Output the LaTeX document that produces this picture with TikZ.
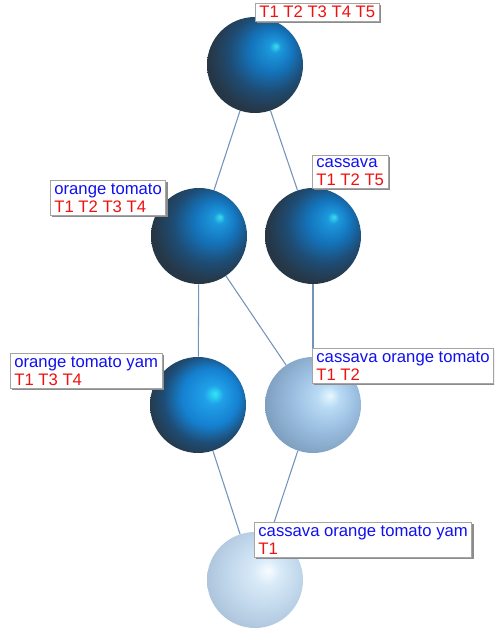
\documentclass[tikz,border=0pt]{standalone}
\usepackage{fontspec}
\setmainfont{Liberation Sans}
\usetikzlibrary{positioning,backgrounds,shadows}
\definecolor{cBlue}{HTML}{1010F0}
\definecolor{cRed}{HTML}{F01010}
\definecolor{cEdge}{HTML}{7394BA}
\definecolor{cFrame}{HTML}{A4A4A4}
% sphere colours
\definecolor{dHi}{HTML}{38E0EC}
\definecolor{dBlue}{HTML}{1C98DC}
\definecolor{dMid}{HTML}{1474BC}
\definecolor{dSteel}{HTML}{1E4C74}
\definecolor{dDark}{HTML}{263848}
\definecolor{dDeep}{HTML}{1A2230}
\definecolor{bHi}{HTML}{30E8F4}
\definecolor{bBlue}{HTML}{20A0E8}
\definecolor{bMid}{HTML}{1580D0}
\definecolor{lHi}{HTML}{E8F8FF}
\definecolor{lBlue}{HTML}{B8DAF4}
\definecolor{lMid}{HTML}{9CC0E2}
\definecolor{lDark}{HTML}{7C9CBC}
\definecolor{lDeep}{HTML}{5C748C}
\definecolor{pHi}{HTML}{F8FCFF}
\definecolor{pBlue}{HTML}{D8EAF8}
\definecolor{pMid}{HTML}{C2D8EC}
\definecolor{pDark}{HTML}{AAC2DA}
\definecolor{pDeep}{HTML}{92AAC2}
\pgfdeclareradialshading{darksph}{\pgfpoint{11bp}{10bp}}{%
  color(0bp)=(dHi); color(3bp)=(dBlue); color(11bp)=(dMid);
  color(20bp)=(dSteel); color(28bp)=(dDark); color(50bp)=(dDeep)}
\pgfdeclareradialshading{bluesph}{\pgfpoint{9bp}{6bp}}{%
  color(0bp)=(bHi); color(5bp)=(bBlue); color(15bp)=(bMid);
  color(23bp)=(dSteel); color(30bp)=(dDark); color(50bp)=(dDeep)}
\pgfdeclareradialshading{lightsph}{\pgfpoint{9bp}{5bp}}{%
  color(0bp)=(lHi); color(6bp)=(lBlue); color(16bp)=(lMid);
  color(30bp)=(lDark); color(50bp)=(lDeep)}
\pgfdeclareradialshading{palesph}{\pgfpoint{7bp}{5bp}}{%
  color(0bp)=(pHi); color(7bp)=(pBlue); color(18bp)=(pMid);
  color(30bp)=(pDark); color(50bp)=(pDeep)}

\begin{document}
\begin{tikzpicture}[
  x=0.75pt, y=-0.75pt,
  font=\fontsize{12.5}{13.5}\selectfont,
  sph/.style={circle, inner sep=0pt, minimum size=72pt, shading=#1},
  lbl/.style={draw=cFrame, fill=white, anchor=north west, align=left,
              inner xsep=3pt, inner ysep=2.2pt, line width=0.6pt,
              drop shadow={shadow xshift=1.3pt, shadow yshift=-1.3pt,
                           fill=black!45, opacity=1}},
  edge/.style={draw=cEdge, line width=0.8pt},
]
\path[use as bounding box, clip] (0,0) rectangle (494,634);

% ---- Concepts ----
\node[sph=darksph]  (top) at (255,65)  {};
\node[sph=darksph]  (ot)  at (199,236) {};
\node[sph=darksph]  (cas) at (313,236) {};
\node[sph=bluesph]  (oty) at (198,405) {};
\node[sph=lightsph] (cot) at (313,405) {};
\node[sph=palesph]  (all) at (255,580) {};

% ---- Lattice edges ----
\begin{scope}[on background layer]
  \draw[edge] (top) -- (ot);
  \draw[edge] (top) -- (cas);
  \draw[edge] (ot) -- (oty);
  \draw[edge] (ot) -- (cot);
  \draw[edge] (cas) -- (cot);
  \draw[edge] (oty) -- (all);
  \draw[edge] (cot) -- (all);
\end{scope}

% ---- Labels ----
\node[lbl] (topL) at (255,3)   {\textcolor{cRed}{T1 T2 T3 T4 T5}};
\node[lbl] (otL)  at (50,180)  {\textcolor{cBlue}{orange tomato}\\
                                \textcolor{cRed}{T1 T2 T3 T4}};
\node[lbl] (casL) at (312,155) {\textcolor{cBlue}{cassava}\\
                                \textcolor{cRed}{T1 T2 T5}};
\node[lbl] (otyL) at (10,353)  {\textcolor{cBlue}{orange tomato yam}\\
                                \textcolor{cRed}{T1 T3 T4}};
\node[lbl] (cotL) at (312,348) {\textcolor{cBlue}{cassava orange tomato}\\
                                \textcolor{cRed}{T1 T2}};
\node[lbl] (allL) at (254,522) {\textcolor{cBlue}{cassava orange tomato yam}\\
                                \textcolor{cRed}{T1}};

\end{tikzpicture}
\end{document}
